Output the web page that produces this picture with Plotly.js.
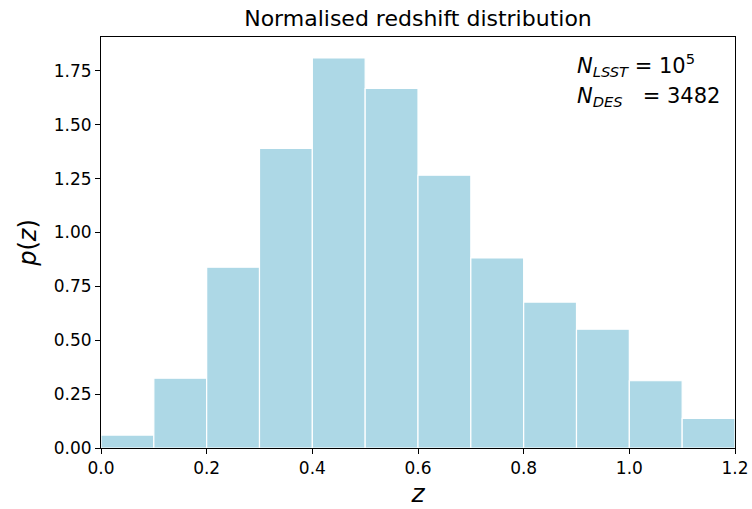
<!DOCTYPE html>
<html>
<head>
<meta charset="utf-8">
<script src="https://cdn.plot.ly/plotly-3.0.1.min.js"></script>
<style>html,body{margin:0;padding:0;background:#fff;}#chart{width:752px;height:509px;}</style>
</head>
<body>
<div id="chart"></div>
<script>
// Histogram bin edges (z) and normalised density per bin
const binEdges = [0.0, 0.1, 0.2, 0.3, 0.4, 0.5, 0.6, 0.7, 0.8, 0.9, 1.0, 1.1, 1.2];
const density = [0.060, 0.324, 0.839, 1.390, 1.810, 1.668, 1.266, 0.882, 0.677, 0.551, 0.312, 0.137];
const xTickVals = [0.0, 0.2, 0.4, 0.6, 0.8, 1.0, 1.2];
const yTickVals = [0.00, 0.25, 0.50, 0.75, 1.00, 1.25, 1.50, 1.75];

const centers = density.map((_, i) => (binEdges[i] + binEdges[i + 1]) / 2);
const widths = density.map((_, i) => binEdges[i + 1] - binEdges[i]);

const font = "DejaVu Sans, sans-serif";

const trace = {
  type: 'bar',
  x: centers,
  y: density,
  width: widths,
  marker: {color: '#add8e6', line: {color: '#ffffff', width: 1.2}},
  hoverinfo: 'skip'
};

const layout = {
  width: 752, height: 509,
  margin: {l: 101, r: 17, t: 37, b: 60.5},
  paper_bgcolor: '#fff', plot_bgcolor: '#fff',
  showlegend: false,
  bargap: 0,
  font: {family: font, color: '#000', size: 17},
  title: {text: 'Normalised redshift distribution', font: {family: font, size: 22, color: '#000'},
          xref: 'paper', x: 0.5, xanchor: 'center', yref: 'container', y: 1 - 18 / 509, yanchor: 'middle'},
  xaxis: {
    range: [0, 1.2], tickvals: xTickVals, tickformat: '.1f',
    ticks: 'outside', ticklen: 5, tickwidth: 1, tickcolor: '#000',
    showline: true, linecolor: '#000', linewidth: 1, mirror: true,
    showgrid: false, zeroline: false,
    tickfont: {family: font, size: 17, color: '#000'},
    title: {text: '<i>z</i>', font: {family: font, size: 25, color: '#000'}, standoff: 7}
  },
  yaxis: {
    range: [0, 1.907], tickvals: yTickVals, tickformat: '.2f',
    ticks: 'outside', ticklen: 5, tickwidth: 1, tickcolor: '#000',
    showline: true, linecolor: '#000', linewidth: 1, mirror: true,
    showgrid: false, zeroline: false,
    tickfont: {family: font, size: 17, color: '#000'},
    title: {text: '<i>p</i>(<i>z</i>)', font: {family: font, size: 24, color: '#000'}, standoff: 10}
  },
  annotations: [
    {xref: 'paper', yref: 'paper', x: 0.7476, y: 0.932, xanchor: 'left', yanchor: 'middle', showarrow: false,
     text: '<i>N</i><sub><i>LSST</i></sub> = 10<sup>5</sup>', font: {family: font, size: 21, color: '#000'}},
    {xref: 'paper', yref: 'paper', x: 0.7476, y: 0.855, xanchor: 'left', yanchor: 'middle', showarrow: false,
     text: '<i>N</i><sub><i>DES</i></sub>   = 3482', font: {family: font, size: 21, color: '#000'}}
  ]
};

Plotly.newPlot('chart', [trace], layout, {displayModeBar: false, staticPlot: true});
</script>
</body>
</html>
